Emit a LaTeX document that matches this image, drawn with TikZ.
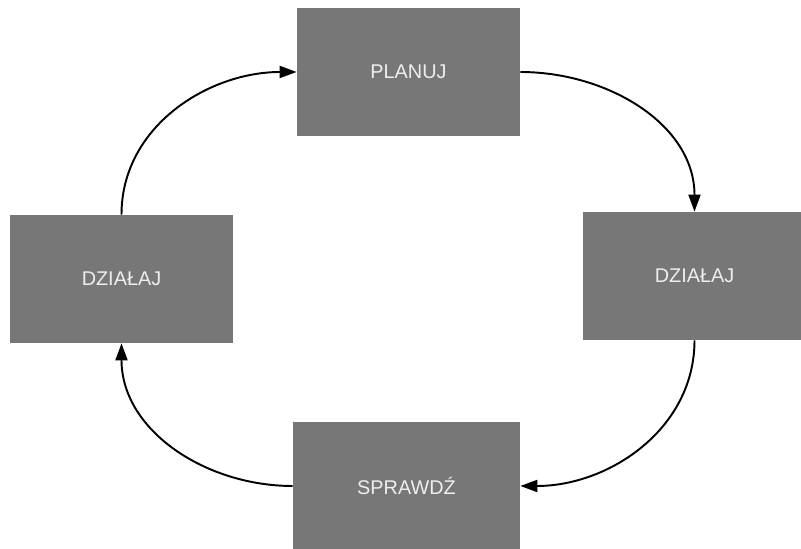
\documentclass[tikz,border=0pt]{standalone}
\usepackage{xcolor}
\usepackage{fontspec}
\setmainfont{Liberation Sans}
\usetikzlibrary{positioning,arrows.meta}

\definecolor{boxgray}{HTML}{777777}
\definecolor{boxtext}{HTML}{EEEEEE}

\begin{document}
\begin{tikzpicture}[
        stage/.style={fill=boxgray, text=boxtext, minimum width=4.46cm, minimum height=2.56cm, inner sep=0pt, font=\fontsize{11.3}{13}\selectfont},
        cycle/.style={line width=1.1pt, -{Triangle[length=0.34cm,width=0.24cm]}}
    ]
        \useasboundingbox (0,0) rectangle (16.02,10.98);

        % Stages
        \node[stage] (plan) at (8.17,9.54) {PLANUJ};
        \node[stage] (doright) at (13.89,5.46) {DZIAŁAJ};
        \node[stage, minimum width=4.54cm] (check) at (8.13,1.26) {SPRAWDŹ};
        \node[stage] (doleft) at (2.43,5.40) {DZIAŁAJ};

        % Cycle
        \draw[cycle] (plan.east) to[out=0,in=90] (doright.north);
        \draw[cycle] (doright.south) to[out=-90,in=0] (check.east);
        \draw[cycle] (check.west) to[out=180,in=-90] (doleft.south);
        \draw[cycle] (doleft.north) to[out=90,in=180] (plan.west);
    \end{tikzpicture}
\end{document}
